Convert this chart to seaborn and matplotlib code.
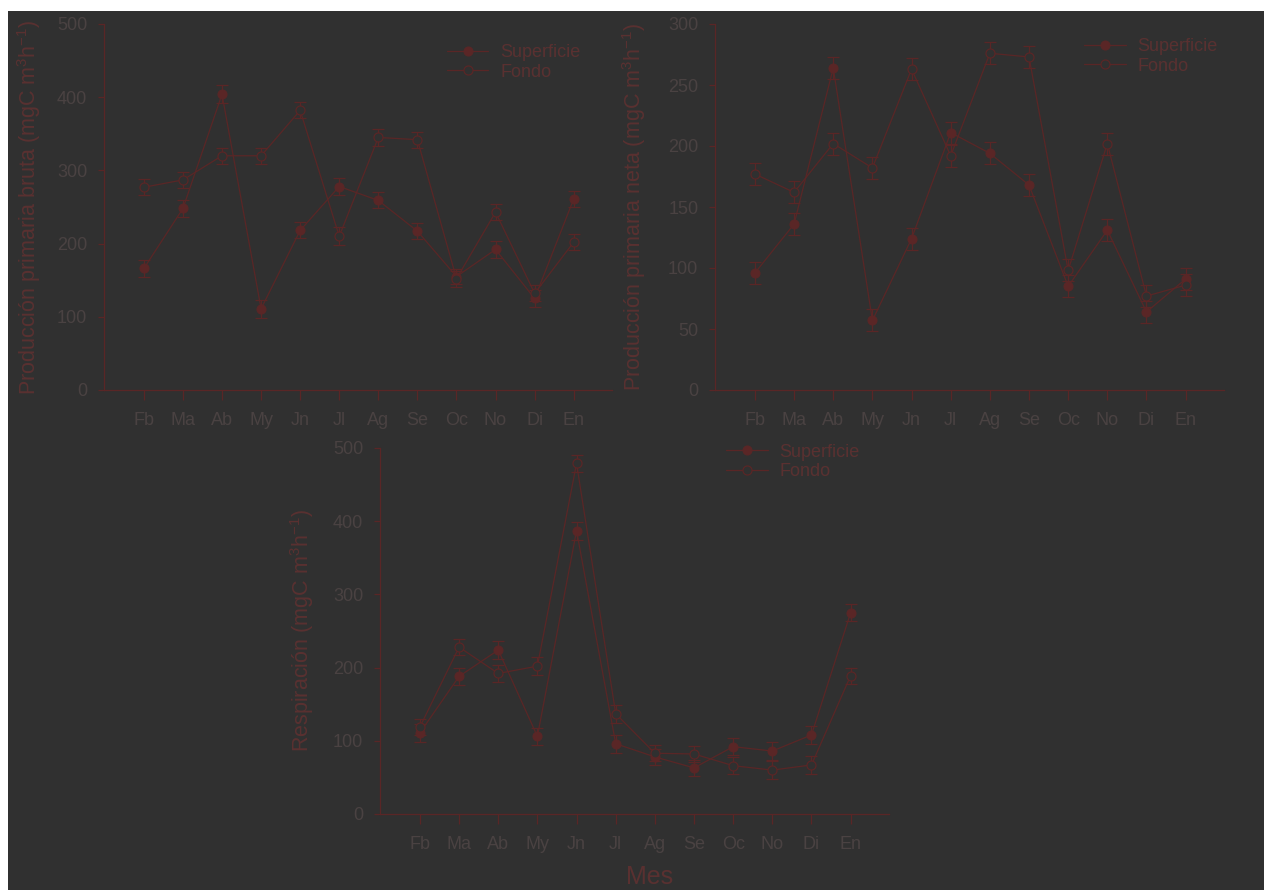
import matplotlib
matplotlib.use("Agg")
import matplotlib.pyplot as plt
from matplotlib.patches import Rectangle
import seaborn as sns
import numpy as np

meses = ["Fb", "Ma", "Ab", "My", "Jn", "Jl", "Ag", "Se", "Oc", "No", "Di", "En"]

# Producción primaria bruta (mgC m^3 h^-1)
bruta_sup = [166, 248, 404, 111, 218, 278, 259, 217, 155, 192, 125, 261]
bruta_fon = [277, 287, 320, 320, 382, 210, 345, 342, 152, 243, 132, 202]
bruta_err_sup = [12, 12, 12, 12, 11, 12, 11, 11, 10, 11, 11, 11]
bruta_err_fon = [11, 11, 11, 11, 11, 12, 11, 11, 11, 11, 11, 11]

# Producción primaria neta (mgC m^3 h^-1)
neta_sup = [96, 136, 264, 57, 124, 211, 194, 168, 85, 131, 64, 91]
neta_fon = [177, 162, 202, 182, 263, 192, 276, 273, 98, 202, 77, 86]
neta_err_sup = [9, 9, 9, 9, 9, 9, 9, 9, 9, 9, 9, 9]
neta_err_fon = [9, 9, 9, 9, 9, 9, 9, 9, 9, 9, 9, 9]

# Respiración (mgC m^3 h^-1)
resp_sup = [111, 188, 224, 106, 387, 96, 78, 63, 92, 86, 108, 275]
resp_fon = [119, 228, 192, 202, 479, 137, 83, 82, 66, 60, 67, 189]
resp_err_sup = [12, 12, 12, 12, 12, 12, 11, 11, 12, 12, 12, 12]
resp_err_fon = [11, 11, 12, 12, 12, 12, 11, 11, 12, 12, 12, 11]

BG = "#303030"
LINE = "#5a2626"
TICKTXT = "#4a4242"
LABTXT = "#5a3030"

sns.set_theme(style="ticks")
plt.rcParams["font.family"] = ["Liberation Sans", "DejaVu Sans"]
plt.rcParams["mathtext.fontset"] = "custom"
plt.rcParams["mathtext.rm"] = "Liberation Sans"
plt.rcParams["mathtext.it"] = "Liberation Sans:italic"
plt.rcParams["mathtext.bf"] = "Liberation Sans:bold"

fig = plt.figure(figsize=(12.64, 8.90), dpi=100)
fig.patch.set_facecolor("white")
fig.add_artist(Rectangle((8 / 1264, 0), 1 - 8 / 1264, 1 - 11 / 890,
                         transform=fig.transFigure, facecolor=BG,
                         edgecolor="none", zorder=-10))

x = np.arange(len(meses))


def panel(rect, sup, fon, esup, efon, ymax, ystep, ylabel, lab_x, leg_pos):
    ax = fig.add_axes(rect)
    ax.set_facecolor("none")
    for vals, errs in ((sup, esup), (fon, efon)):
        ax.errorbar(x, vals, yerr=errs, fmt="none", ecolor=LINE,
                    elinewidth=0.9, capsize=4, capthick=0.9, zorder=2)
    sns.lineplot(x=x, y=sup, ax=ax, color=LINE, lw=0.9, marker="o",
                 markersize=6.5, markerfacecolor=LINE, markeredgecolor=LINE,
                 label="Superficie", zorder=3)
    sns.lineplot(x=x, y=fon, ax=ax, color=LINE, lw=0.9, marker="o",
                 markersize=6.5, markerfacecolor=BG, markeredgecolor=LINE,
                 markeredgewidth=0.9, label="Fondo", zorder=3)
    ax.set_xlim(-1.02, 11.98)
    ax.set_ylim(0, ymax)
    ax.set_yticks(np.arange(0, ymax + 1, ystep))
    ax.set_xticks(x)
    ax.set_xticklabels(meses)
    for s in ("top", "right"):
        ax.spines[s].set_visible(False)
    for s in ("left", "bottom"):
        ax.spines[s].set_color(LINE)
        ax.spines[s].set_linewidth(0.9)
    ax.tick_params(axis="y", colors=LINE, labelcolor=TICKTXT, labelsize=13,
                   length=4, width=0.9, pad=8)
    ax.tick_params(axis="x", colors=LINE, labelcolor=TICKTXT, labelsize=13,
                   length=7, width=0.9, pad=9)
    ax.set_xlabel("")
    ax.set_ylabel(ylabel, fontsize=15.5, color=LABTXT)
    ax.yaxis.set_label_coords(lab_x, 0.5)
    leg = ax.legend(loc="center left", bbox_to_anchor=leg_pos, frameon=False,
                    fontsize=13, handlelength=2.3, handletextpad=0.65,
                    borderpad=0, borderaxespad=0, labelspacing=0.15)
    for t in leg.get_texts():
        t.set_color(LABTXT)
    return ax


unit = " (mgC m$^{3}$h$^{-1}$)"
panel([104 / 1264, 1 - 390 / 890, 508 / 1264, 366 / 890],
      bruta_sup, bruta_fon, bruta_err_sup, bruta_err_fon, 500, 100,
      "Producción primaria bruta" + unit, -0.12, (0.675, 0.895))
panel([715 / 1264, 1 - 390 / 890, 509 / 1264, 366 / 890],
      neta_sup, neta_fon, neta_err_sup, neta_err_fon, 300, 50,
      "Producción primaria neta" + unit, -0.132, (0.725, 0.912))
panel([380 / 1264, 1 - 814 / 890, 509 / 1264, 366 / 890],
      resp_sup, resp_fon, resp_err_sup, resp_err_fon, 500, 100,
      "Respiración" + unit, -0.125, (0.68, 0.962))

fig.text(650 / 1264, 1 - 877 / 890, "Mes", ha="center", va="center",
         fontsize=18, color=LABTXT)

fig.savefig("out.png", dpi=100, facecolor=fig.get_facecolor())
